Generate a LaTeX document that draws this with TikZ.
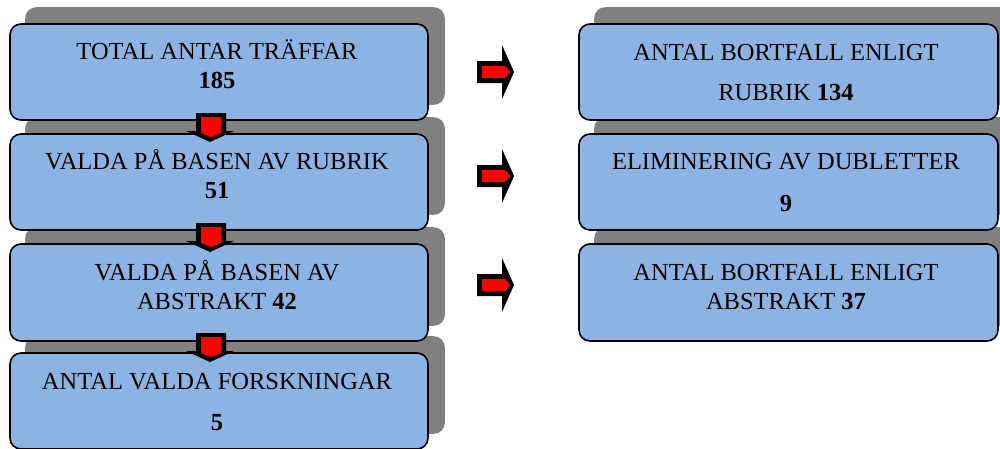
\documentclass[tikz,border=0pt]{standalone}
\usepackage{fontspec}
\setmainfont{Liberation Serif}
\usetikzlibrary{backgrounds}
\definecolor{boxblue}{HTML}{8DB3E2}
\definecolor{shadowgray}{HTML}{808080}
\definecolor{arrowred}{HTML}{FF0000}
\tikzset{
  flowbox/.style={draw=black, line width=1.6pt, fill=boxblue, rounded corners=11pt,
    rectangle, inner sep=0pt, minimum width=418pt, minimum height=96pt},
  rightbox/.style={flowbox, minimum width=419pt},
  boxshadow/.style={fill=shadowgray, rounded corners=11pt},
  txt/.style={anchor=base, inner sep=0pt, font=\fontsize{24.5}{29}\selectfont},
  arrowblack/.style={fill=black},
  arrowfill/.style={fill=arrowred}
}
\begin{document}
\begin{tikzpicture}[x=1pt,y=-1pt]
\useasboundingbox (0,0) rectangle (1000,448);
% boxes
\node[flowbox] (L1) at (219,72) {};
\node[flowbox] (L2) at (219,182) {};
\node[flowbox, minimum height=97pt] (L3) at (219,292.5) {};
\node[flowbox] (L4) at (219,401) {};
\node[rightbox] (R1) at (788.5,72) {};
\node[rightbox] (R2) at (788.5,182) {};
\node[rightbox, minimum height=97pt] (R3) at (788.5,292.5) {};
% shadows
\begin{pgfonlayer}{background}
\foreach \b in {L1,L2,L3,L4,R1,R2,R3}{
  \fill[boxshadow] ([shift={(16,-16)}]\b.south west) rectangle ([shift={(16,-16)}]\b.north east);
}
\end{pgfonlayer}
% texts
\node[txt] (l1a) at (217,59) {TOTAL ANTAR TRÄFFAR};
\node[txt] (l1b) at (217,88) {\textbf{185}};
\node[txt] (l2a) at (217,169) {VALDA PÅ BASEN AV RUBRIK};
\node[txt] (l2b) at (217,198) {\textbf{51}};
\node[txt] (l3a) at (217,280) {VALDA PÅ BASEN AV};
\node[txt] (l3b) at (217,309) {ABSTRAKT \textbf{42}};
\node[txt] (l4a) at (217,389) {ANTAL VALDA FORSKNINGAR};
\node[txt] (l4b) at (217,430) {\textbf{5}};
\node[txt] (r1a) at (786,60) {ANTAL BORTFALL ENLIGT};
\node[txt] (r1b) at (786,100) {RUBRIK \textbf{134}};
\node[txt] (r2a) at (786,169) {ELIMINERING AV DUBLETTER};
\node[txt] (r2b) at (786,211) {\textbf{9}};
\node[txt] (r3a) at (786,280) {ANTAL BORTFALL ENLIGT};
\node[txt] (r3b) at (786,309) {ABSTRAKT \textbf{37}};
% down arrows
\foreach \t in {113,223,333}{
  \fill[arrowblack] (196,\t) -- (226,\t) -- (226,\t+18) -- (234,\t+18) -- (210,\t+29)
     -- (186,\t+18) -- (196,\t+18) -- cycle;
  \fill[arrowfill] (201,\t+4) -- (221,\t+4) -- (221,\t+20) -- (211,\t+24) -- (201,\t+20) -- cycle;
}
% right arrows
\foreach \c in {72,176,285}{
  \fill[arrowblack] (477,\c-11) -- (502,\c-11) -- (502,\c-27) -- (514,\c) -- (502,\c+27)
     -- (502,\c+11) -- (477,\c+11) -- cycle;
  \fill[arrowfill] (482,\c-6) -- (505,\c-6) -- (510,\c) -- (505,\c+6) -- (482,\c+6) -- cycle;
}
\end{tikzpicture}
\end{document}
